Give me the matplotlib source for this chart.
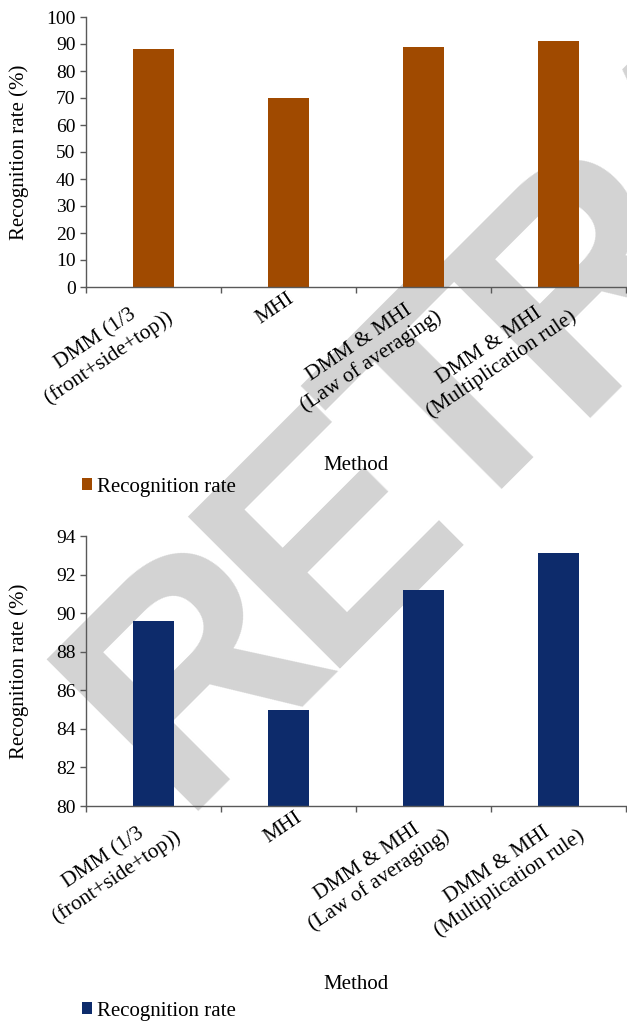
import numpy as np
import matplotlib.pyplot as plt
from matplotlib.transforms import ScaledTranslation

# datos
methods = ["DMM (1/3\n(front+side+top))", "MHI",
           "DMM & MHI\n(Law of averaging)", "DMM & MHI\n(Multiplication rule)"]
rate_top = [88, 70, 89, 91]
rate_bottom = [89.6, 85.0, 91.2, 93.1]
yticks_top = np.arange(0, 101, 10)
yticks_bottom = np.arange(80, 95, 2)
series_name = "Recognition rate"

plt.rcParams['font.family'] = ['Liberation Serif', 'DejaVu Serif']
plt.rcParams['font.size'] = 15

W, H = 627, 1021
fig = plt.figure(figsize=(W / 100, H / 100), dpi=100)

# marca de agua de fondo, letra por letra con espaciado apretado
mark = "RETRACTED"
advance = {'R': 0.722, 'E': 0.667, 'T': 0.611, 'A': 0.722, 'C': 0.722, 'D': 0.722}
em = 312  # px
x0, y0 = 177, 811  # origen de la primera letra, en pixeles
d = np.array([1, -1]) / np.sqrt(2)
s = 0.0
for ch in mark:
    px, py = x0 + s * d[0], y0 + s * d[1]
    fig.text(px / W, 1 - py / H, ch, rotation=45, rotation_mode='anchor',
             ha='left', va='baseline', fontsize=em * 0.72, fontweight='bold',
             family='Liberation Sans', color='#d3d3d3', zorder=-10)
    s += advance[ch] * em * 0.89

axis_color = '#595959'


def draw(ax, values, color, yticks, legend_y, label_dx):
    x = np.arange(len(methods))
    bars = ax.bar(x, values, width=0.31, color=color, label=series_name, zorder=2)
    ax.set_facecolor('none')
    ax.set_xlim(-0.5, len(methods) - 0.5)
    ax.set_ylim(yticks[0], yticks[-1])
    ax.set_yticks(yticks)
    ax.set_xticks(np.arange(len(methods) + 1) - 0.5)
    ax.set_xticklabels([])
    for sp in ['top', 'right']:
        ax.spines[sp].set_visible(False)
    for sp in ['left', 'bottom']:
        ax.spines[sp].set_color(axis_color)
        ax.spines[sp].set_linewidth(1)
    ax.tick_params(axis='both', direction='out', length=4, width=1,
                   color=axis_color, pad=3.5, labelsize=14)
    # etiquetas de categorias giradas
    off = ScaledTranslation(label_dx / 100, -2 / 100, fig.dpi_scale_trans)
    for i, name in enumerate(methods):
        ax.text(x[i], 0, name, transform=ax.get_xaxis_transform() + off,
                rotation=34, rotation_mode='anchor', ha='right', va='top',
                multialignment='center', fontsize=15.5)
    ax.set_ylabel("Recognition rate (%)")
    ax.yaxis.set_label_coords((19.5 - 86) / 540, 0.5)
    ax.yaxis.label.set_va('center')
    ax.set_xlabel("Method")
    ax.xaxis.set_label_coords(0.5, -178 / 270)
    ax.xaxis.label.set_va('center')
    ax.legend(handles=[bars], loc='center left',
              bbox_to_anchor=(82 / W, 1 - legend_y / H), bbox_transform=fig.transFigure,
              frameon=False, handlelength=0.5, handleheight=0.5,
              handletextpad=0.2, borderaxespad=0, borderpad=0)


ax1 = fig.add_axes([86 / W, 1 - 287 / H, 540 / W, 270 / H])
draw(ax1, rate_top, '#a04a00', yticks_top, 487, -1)

ax2 = fig.add_axes([86 / W, 1 - 806 / H, 540 / W, 270 / H])
draw(ax2, rate_bottom, '#0d2b6b', yticks_bottom, 1011, 7)

plt.savefig("out.png")
plt.close()
